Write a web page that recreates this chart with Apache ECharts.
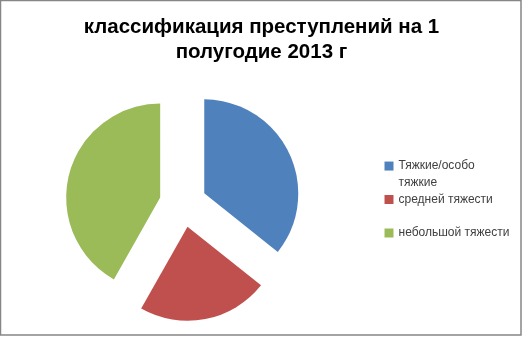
<!DOCTYPE html>
<html>
<head>
<meta charset="utf-8">
<script src="https://cdn.jsdelivr.net/npm/echarts@6/dist/echarts.min.js"></script>
<style>
html,body{margin:0;padding:0;background:#fff;}
#chart{width:523px;height:337px;}
</style>
</head>
<body>
<div id="chart"></div>
<script>
const titleText = 'классификация преступлений на 1\nполугодие 2013 г';
const categories = ['Тяжкие/особо тяжкие', 'средней тяжести', 'небольшой тяжести'];
const legendLabels = [' \nТяжкие/особо\nтяжкие', 'средней тяжести', 'небольшой тяжести'];
const values = [35.7, 22.5, 41.8];
const colors = ['#4F81BD', '#C0504D', '#9BBB59'];

const chart = echarts.init(document.getElementById('chart'), null, {renderer: 'canvas'});

const legendTops = [141, 192.5, 226];
const legends = categories.map((name, i) => {
  const multi = i === 0;
  return {
    show: true,
    orient: 'vertical',
    left: 384.5,
    top: legendTops[i],
    padding: 0,
    icon: 'rect',
    itemWidth: 9,
    itemHeight: 9,
    selectedMode: false,
    data: [name],
    formatter: () => legendLabels[i],
    textStyle: {
      fontFamily: 'Liberation Sans',
      fontSize: 12,
      color: '#404040',
      lineHeight: multi ? 16.7 : 14
    }
  };
});

chart.setOption({
  animation: false,
  color: colors,
  title: {
    text: titleText,
    left: 'center',
    top: 15,
    padding: 0,
    textStyle: {
      fontFamily: 'Liberation Sans',
      fontWeight: 'bold',
      fontSize: 20.5,
      lineHeight: 25,
      color: '#000'
    }
  },
  legend: legends,
  graphic: [{
    type: 'rect',
    shape: {x: 0.5, y: 0.5, width: 520.5, height: 334.5},
    style: {fill: 'none', stroke: '#868686', lineWidth: 1.5},
    silent: true
  }],
  series: [{
    type: 'pie',
    center: [183, 203.6],
    radius: 94,
    startAngle: 90,
    clockwise: true,
    selectedMode: 'multiple',
    selectedOffset: 23.6,
    label: {show: false},
    labelLine: {show: false},
    emphasis: {disabled: true},
    select: {itemStyle: {borderWidth: 0}},
    itemStyle: {borderWidth: 0},
    data: categories.map((name, i) => ({name, value: values[i], selected: true}))
  }]
});
</script>
</body>
</html>
